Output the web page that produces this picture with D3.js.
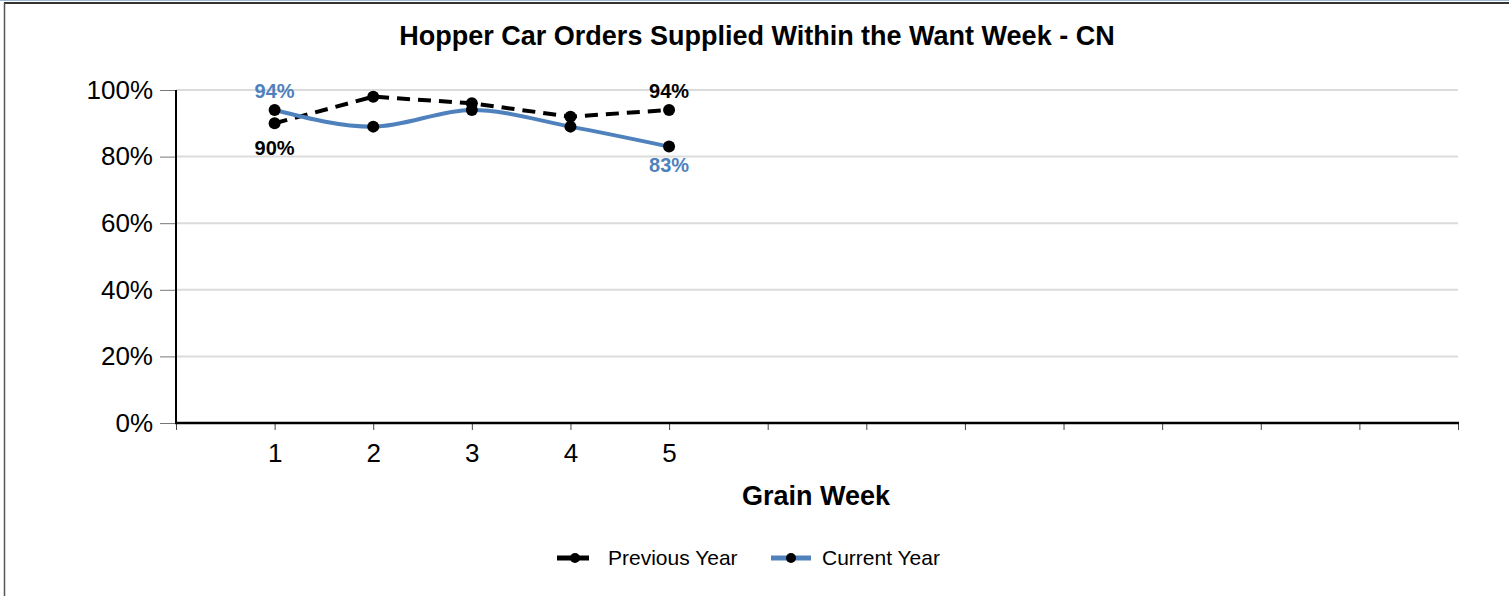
<!DOCTYPE html>
<html><head><meta charset="utf-8">
<script src="https://cdn.jsdelivr.net/npm/d3@7"></script>
<style>body{margin:0;background:#fff;}svg{display:block;font-family:"Liberation Sans",Arial,sans-serif;}</style>
</head><body>
<script>
const weeks = [1, 2, 3, 4, 5];
const previousYear = [90, 98, 96, 92, 94];
const currentYear = [94, 89, 94, 89, 83];
const xTicks = [0,1,2,3,4,5,6,7,8,9,10,11,12,13];
const xTickLabels = ["", "1", "2", "3", "4", "5", "", "", "", "", "", "", "", ""];
const yTicks = [0, 20, 40, 60, 80, 100];
const seriesNames = ["Previous Year", "Current Year"];
const title = "Hopper Car Orders Supplied Within the Want Week - CN";
const xTitle = "Grain Week";

const W = 1509, H = 596;
const FF = "Liberation Sans, Arial, sans-serif";
const svg = d3.select("body").append("svg").attr("width", W).attr("height", H);

// frame
svg.append("line").attr("x1",0).attr("x2",W).attr("y1",0.5).attr("y2",0.5).attr("stroke","#9fb8d8").attr("stroke-width",1);
svg.append("line").attr("x1",4).attr("x2",W).attr("y1",3).attr("y2",3).attr("stroke","#333").attr("stroke-width",2);
svg.append("line").attr("x1",4.5).attr("x2",4.5).attr("y1",3).attr("y2",H).attr("stroke","#555").attr("stroke-width",1.5);

const x = d3.scaleLinear().domain([0, 13]).range([176, 1458]);
const y = d3.scaleLinear().domain([0, 100]).range([423, 90]);

// gridlines
svg.append("g").selectAll("line").data(yTicks.filter(d=>d>0)).join("line")
  .attr("x1", 176).attr("x2", 1458).attr("y1", d=>y(d)).attr("y2", d=>y(d))
  .attr("stroke", "#dcdcdc").attr("stroke-width", 2);

// y axis
const yAxis = d3.axisLeft(y).tickValues(yTicks).tickFormat(d=>d+"%").tickSize(16).tickPadding(7);
const gy = svg.append("g").attr("transform","translate(176,0)").call(yAxis);
gy.select(".domain").remove();
gy.selectAll(".tick line").attr("stroke","#777").attr("stroke-width",1);
gy.selectAll(".tick text").attr("font-size",26).attr("fill","#000").attr("font-family",FF);
svg.append("line").attr("x1",176).attr("x2",176).attr("y1",90).attr("y2",424).attr("stroke","#000").attr("stroke-width",2);

// x axis
const xAxis = d3.axisBottom(x).tickValues(xTicks).tickFormat((d,i)=>xTickLabels[i]).tickSize(7).tickPadding(12);
const gx = svg.append("g").attr("transform","translate(0,423)").call(xAxis);
gx.select(".domain").remove();
gx.selectAll(".tick line").attr("stroke","#444").attr("stroke-width",1);
gx.selectAll(".tick text").attr("font-size",26).attr("fill","#000").attr("font-family",FF)
  .attr("y", 39).attr("dy", null);
svg.append("line").attr("x1",175).attr("x2",1459).attr("y1",423).attr("y2",423).attr("stroke","#000").attr("stroke-width",2.5);

// titles
svg.append("text").attr("x",757).attr("y",45).attr("text-anchor","middle").attr("font-size",27).attr("font-weight","bold").text(title);
svg.append("text").attr("x",816).attr("y",505).attr("text-anchor","middle").attr("font-size",27).attr("font-weight","bold").text(xTitle);

const prevColor = "#000", curColor = "#4f81bd";
const linePrev = d3.line().x((d,i)=>x(weeks[i])).y(d=>y(d));
const lineCur = d3.line().x((d,i)=>x(weeks[i])).y(d=>y(d)).curve(d3.curveMonotoneX);

svg.append("path").datum(previousYear).attr("d", linePrev).attr("fill","none")
  .attr("stroke",prevColor).attr("stroke-width",4).attr("stroke-dasharray","13,8");
svg.append("path").datum(currentYear).attr("d", lineCur).attr("fill","none")
  .attr("stroke",curColor).attr("stroke-width",4);

svg.append("g").selectAll("circle").data(previousYear).join("circle")
  .attr("cx",(d,i)=>x(weeks[i])).attr("cy",d=>y(d)).attr("r",6).attr("fill","#000");
svg.append("g").selectAll("circle").data(currentYear).join("circle")
  .attr("cx",(d,i)=>x(weeks[i])).attr("cy",d=>y(d)).attr("r",6).attr("fill","#000");

// data labels (first & last)
function label(val, i, color, offset) {
  svg.append("text").attr("x", x(weeks[i])).attr("y", y(val) + offset)
    .attr("text-anchor","middle").attr("font-size",20).attr("font-weight","bold").attr("fill",color).text(val+"%");
}
label(previousYear[0], 0, prevColor, 32);
label(previousYear[4], 4, prevColor, -12);
label(currentYear[0], 0, curColor, -12);
label(currentYear[4], 4, curColor, 25);

// legend
const lg = svg.append("g");
lg.append("line").attr("x1",557).attr("x2",593).attr("y1",558).attr("y2",558).attr("stroke",prevColor).attr("stroke-width",5).attr("stroke-dasharray","14,4");
lg.append("circle").attr("cx",575).attr("cy",558).attr("r",5).attr("fill","#000");
lg.append("text").attr("x",608).attr("y",565).attr("font-size",21).text(seriesNames[0]);
lg.append("line").attr("x1",771).attr("x2",811).attr("y1",558).attr("y2",558).attr("stroke",curColor).attr("stroke-width",5);
lg.append("circle").attr("cx",791).attr("cy",558).attr("r",5).attr("fill","#000");
lg.append("text").attr("x",822).attr("y",565).attr("font-size",21).text(seriesNames[1]);
</script>
</body></html>
